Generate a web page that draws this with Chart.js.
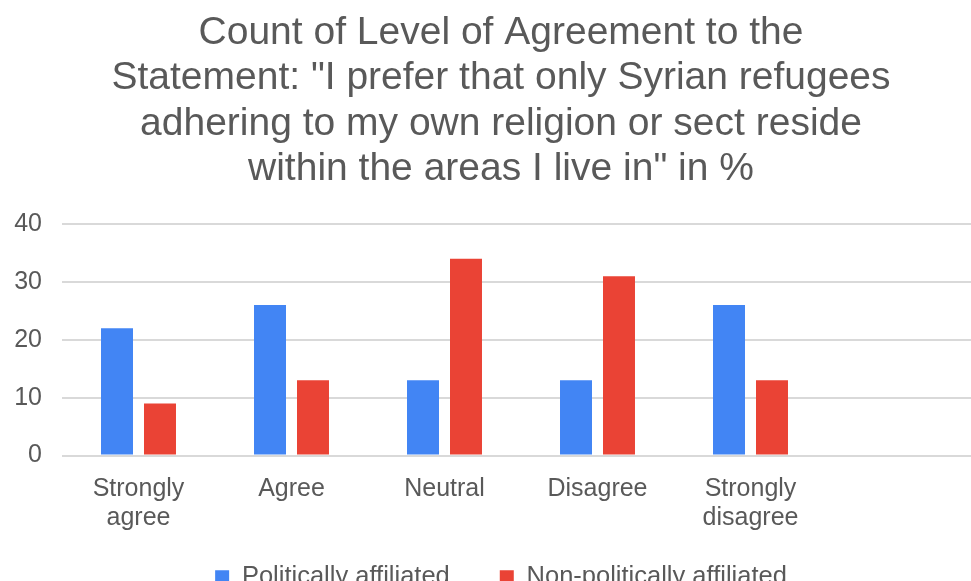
<!DOCTYPE html>
<html>
<head>
<meta charset="utf-8">
<script src="https://cdn.jsdelivr.net/npm/chart.js@4/dist/chart.umd.min.js"></script>
<style>
  html, body { margin: 0; padding: 0; background: #fff; overflow: hidden; }
  #wrap { position: relative; width: 1002px; height: 600px; }
</style>
</head>
<body>
<div id="wrap"><canvas id="c" width="1002" height="600"></canvas></div>
<script>
const categories = [["Strongly", "agree"], "Agree", "Neutral", "Disagree", ["Strongly", "disagree"], ""];
const seriesNames = ["Politically affiliated", "Non-politically affiliated"];
const politicallyAffiliated = [22, 26, 13, 13, 26, null];
const nonPoliticallyAffiliated = [9, 13, 34, 31, 13, null];
const yTicks = [0, 10, 20, 30, 40];
const titleLines = [
  "Count of Level of Agreement to the",
  "Statement: \"I prefer that only Syrian refugees",
  "adhering to my own religion or sect reside",
  "within the areas I live in\" in %"
];

const FONT = "'Liberation Sans', Arial, sans-serif";

new Chart(document.getElementById('c'), {
  type: 'bar',
  data: {
    labels: categories,
    datasets: [
      { label: seriesNames[0], data: politicallyAffiliated, backgroundColor: '#4285F4', borderWidth: 0,
        categoryPercentage: 0.562, barPercentage: 0.744 },
      { label: seriesNames[1], data: nonPoliticallyAffiliated, backgroundColor: '#EA4335', borderWidth: 0,
        categoryPercentage: 0.562, barPercentage: 0.744 }
    ]
  },
  options: {
    responsive: false,
    animation: false,
    devicePixelRatio: 1,
    layout: { padding: { left: 22, right: 22, top: 0, bottom: 0 } },
    plugins: {
      title: {
        display: true,
        text: titleLines,
        color: '#595959',
        font: { family: FONT, size: 39, weight: 'normal', lineHeight: 1.167 },
        padding: { top: 10, bottom: 32 }
      },
      legend: {
        position: 'bottom',
        labels: {
          color: '#595959',
          font: { family: FONT, size: 25.5 },
          boxWidth: 14, boxHeight: 14,
          padding: 50,
          generateLabels: (chart) => Chart.defaults.plugins.legend.labels.generateLabels(chart).map(l => { l.lineWidth = 0; return l; })
        }
      },
      tooltip: { enabled: false }
    },
    scales: {
      x: {
        grid: { display: false, drawTicks: false },
        border: { display: false },
        ticks: {
          color: '#595959',
          font: { family: FONT, size: 25, lineHeight: 1.16 },
          maxRotation: 0, minRotation: 0, autoSkip: false,
          padding: 19
        },
        afterFit: (s) => { s.height = 59; s._computeLabelArea = () => undefined; }
      },
      y: {
        min: 0, max: 40,
        afterBuildTicks: (s) => { s.ticks = yTicks.map(v => ({ value: v })); },
        grid: { color: '#d9d9d9', lineWidth: 2, drawTicks: false },
        border: { display: false },
        ticks: {
          color: '#595959',
          font: { family: FONT, size: 25 },
          padding: 20
        },
        afterFit: (s) => { s.width = 40; s._computeLabelArea = () => undefined; }
      }
    }
  }
});
</script>
</body>
</html>
